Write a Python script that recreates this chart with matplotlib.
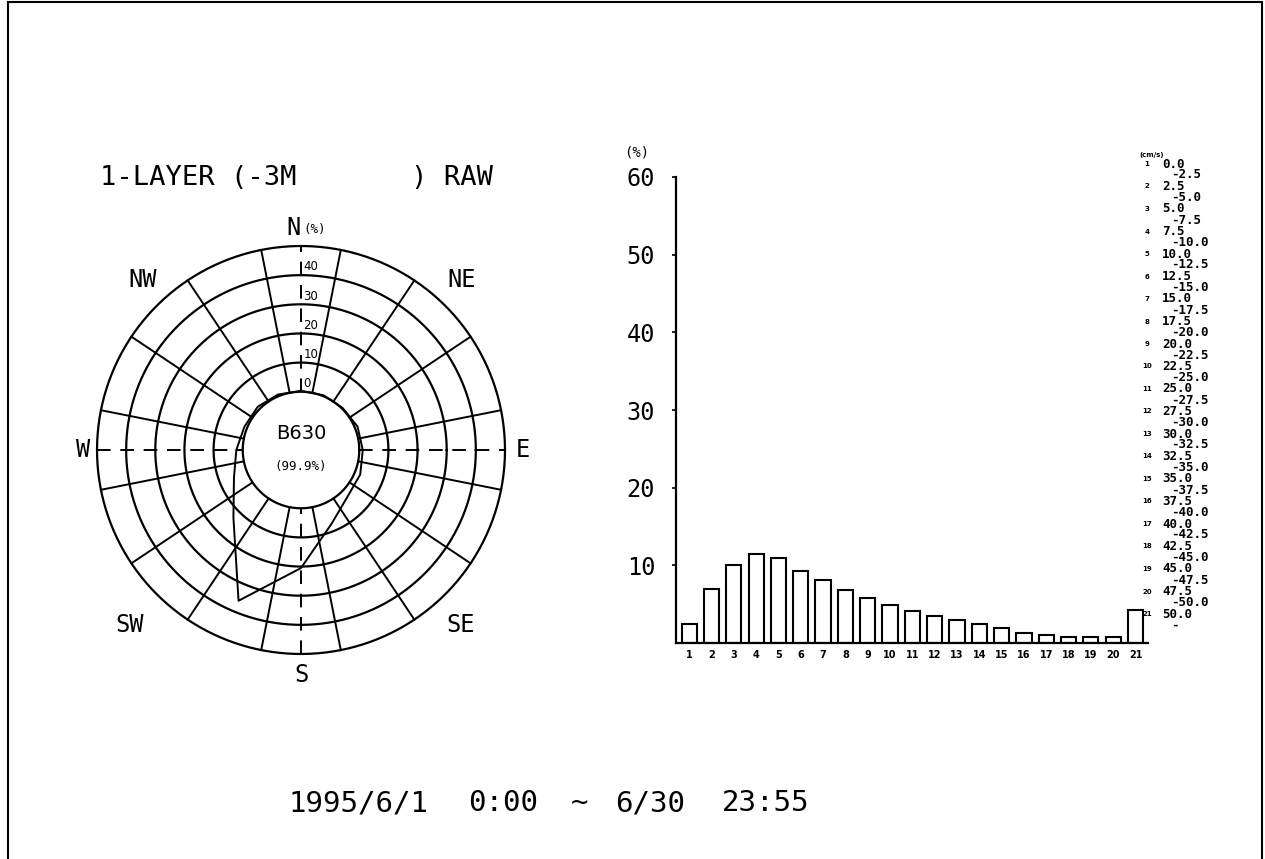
import numpy as np
import matplotlib.pyplot as plt
from matplotlib.patches import Rectangle

W, H = 1265, 859
MONO = 'DejaVu Sans Mono'

# wind rose: frequency (%) per direction, N then clockwise
directions = ['N', 'NNE', 'NE', 'ENE', 'E', 'ESE', 'SE', 'SSE',
              'S', 'SSW', 'SW', 'WSW', 'W', 'WNW', 'NW', 'NNW']
rose_pct = [0.3, 0.3, 0.3, 1.0, 1.2, 2.0, 2.6, 7.4,
            20.5, 36.0, 12.8, 4.9, 2.2, 1.0, 1.0, 0.6]
ring_vals = [0, 10, 20, 30, 40, 50]
ring_labels = ['0', '10', '20', '30', '40']
count_txt = 'B630'
rate_txt = '(99.9%)'

# speed class histogram (%)
classes = list(range(1, 22))
freq = [2.4, 6.9, 10.0, 11.5, 11.0, 9.3, 8.1, 6.8, 5.8, 4.9, 4.1,
        3.5, 2.9, 2.4, 1.9, 1.3, 1.0, 0.8, 0.8, 0.8, 4.3]
class_lo = ['0.0', '2.5', '5.0', '7.5', '10.0', '12.5', '15.0', '17.5', '20.0', '22.5', '25.0',
            '27.5', '30.0', '32.5', '35.0', '37.5', '40.0', '42.5', '45.0', '47.5', '50.0']
class_hi = ['-2.5', '-5.0', '-7.5', '-10.0', '-12.5', '-15.0', '-17.5', '-20.0', '-22.5', '-25.0',
            '-27.5', '-30.0', '-32.5', '-35.0', '-37.5', '-40.0', '-42.5', '-45.0', '-47.5', '-50.0', '-']


def px(x, y):
    return x / W, 1 - y / H


fig = plt.figure(figsize=(W / 100, H / 100), dpi=100)
fig.patch.set_facecolor('white')

# page border
fig.add_artist(Rectangle((8 / W, -0.01), (1262 - 8) / W, 1.01 - 2 / H, transform=fig.transFigure,
                         fill=False, lw=1.5, ec='black'))

# ---- wind rose ----
R0 = 20          # radius of the calm circle (0 %)
s = 2.914        # pixels per unit
half = 85
cx, cy = 301, 450
ax = fig.add_axes([(cx - half * s) / W, (H - cy - half * s) / H, 2 * half * s / W, 2 * half * s / H])
ax.set_xlim(-half, half)
ax.set_ylim(-half, half)
ax.axis('off')

t = np.linspace(0, 2 * np.pi, 500)
for v in ring_vals:
    r = R0 + v
    ax.plot(r * np.cos(t), r * np.sin(t), color='black', lw=1.6)

rmax = R0 + ring_vals[-1]
for k in range(16):
    a = np.deg2rad(11.25 + 22.5 * k)
    ax.plot([R0 * np.sin(a), rmax * np.sin(a)], [R0 * np.cos(a), rmax * np.cos(a)],
            color='black', lw=1.4)

dash = (0, (7, 5))
ax.plot([-rmax, -R0], [0, 0], color='black', lw=1.4, ls=dash)
ax.plot([R0, rmax], [0, 0], color='black', lw=1.4, ls=dash)
ax.plot([0, 0], [R0, rmax], color='black', lw=1.4, ls=dash)
ax.plot([0, 0], [-rmax, -R0], color='black', lw=1.4, ls=dash)

for lab, v in zip(ring_labels, ring_vals):
    ax.text(0.8, R0 + v + 0.6, lab, fontsize=8.5, ha='left', va='bottom')

ang = np.deg2rad(np.arange(16) * 22.5)
rr = R0 + np.array(rose_pct)
xs = rr * np.sin(ang)
ys = rr * np.cos(ang)
ax.plot(np.append(xs, xs[0]), np.append(ys, ys[0]), color='black', lw=1.4)

ax.text(0, 5.8, count_txt, fontsize=14, ha='center', va='center')
ax.text(0, -5.5, rate_txt, fontsize=9, ha='center', va='center', family=MONO)

# compass labels and title
for txt, x, y in [('N', 294, 228), ('NE', 462, 280), ('E', 523, 450), ('SE', 461, 625),
                  ('S', 301, 675), ('SW', 130, 625), ('W', 83, 450), ('NW', 143, 280)]:
    fig.text(*px(x, y), txt, fontsize=17, ha='center', va='center', family=MONO)
fig.text(*px(303, 230), '(%)', fontsize=9, ha='left', va='center', family=MONO)
fig.text(*px(100, 178), '1-LAYER (-3M       ) RAW', fontsize=19.5, ha='left', va='center', family=MONO)

# ---- speed histogram ----
axb = fig.add_axes([676 / W, 1 - 643 / H, (1148 - 676) / W, (643 - 177) / H])
axb.bar(classes, freq, width=0.68, color='white', edgecolor='black', lw=1.5)
axb.set_xlim(0.41, 21.56)
axb.set_ylim(0, 60)
for sp in ['top', 'right']:
    axb.spines[sp].set_visible(False)
for sp in ['left', 'bottom']:
    axb.spines[sp].set_linewidth(1.6)
axb.set_yticks([10, 20, 30, 40, 50, 60])
axb.set_yticklabels(['10', '20', '30', '40', '50', '60'], fontsize=17, family=MONO)
axb.tick_params(axis='y', length=3, width=1.2, pad=12)
axb.set_xticks(classes)
axb.set_xticklabels([str(c) for c in classes], fontsize=7, fontweight='bold')
axb.tick_params(axis='x', length=0, pad=5)
fig.text(*px(637, 152), '(%)', fontsize=10, ha='center', va='center', family=MONO)

# class legend
fig.text(*px(1152, 155), '(cm/s)', fontsize=5, fontweight='bold', ha='center', va='center')
for k in range(21):
    y0 = 164 + 22.5 * k
    fig.text(*px(1147, y0), str(classes[k]), fontsize=5, fontweight='bold', ha='center', va='center')
    fig.text(*px(1162, y0), class_lo[k], fontsize=9, fontweight='bold', ha='left', va='center', family=MONO)
    fig.text(*px(1171, y0 + 11), class_hi[k], fontsize=9, fontweight='bold', ha='left', va='center', family=MONO)

# period
for txt, x in [('1995/6/1', 289), ('0:00', 468), ('~', 571), ('6/30', 615), ('23:55', 722)]:
    fig.text(*px(x, 803), txt, fontsize=21, ha='left', va='center', family=MONO)

fig.savefig('out.png', dpi=100)
